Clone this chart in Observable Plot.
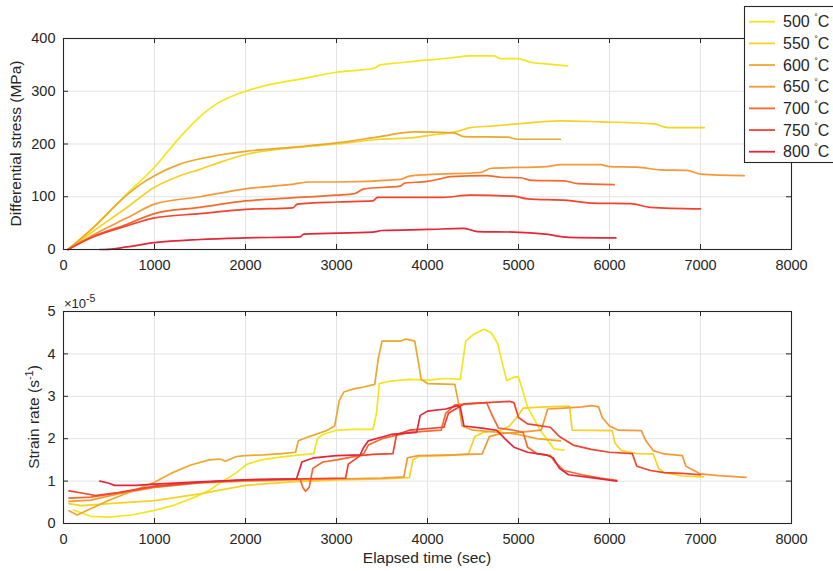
<!DOCTYPE html>
<html><head><meta charset="utf-8">
<script src="https://cdn.jsdelivr.net/npm/d3@7"></script>
<script src="https://cdn.jsdelivr.net/npm/@observablehq/plot@0.6"></script>
<style>
html,body{margin:0;padding:0;background:#fff;}
#fig{position:relative;width:833px;height:571px;overflow:hidden;font-family:"Liberation Sans",Arial,Helvetica,sans-serif;}
#fig svg{position:absolute;left:0;}
</style></head><body><div id="fig"></div>
<script>
// ---- categories & styling lists ----
const temps = [500, 550, 600, 650, 700, 750, 800];
const colors = ["#f3e61c", "#f6d225", "#eba82b", "#f69838", "#f5692e", "#f2432f", "#e3263a"];
const xTicks = [0, 1000, 2000, 3000, 4000, 5000, 6000, 7000, 8000];
const stressTicks = [0, 100, 200, 300, 400];
const rateTicks = [0, 1, 2, 3, 4, 5];

// ---- differential stress (MPa) vs elapsed time (sec) ----
const stress500 = [[50,0],[330,42],[700,106],[1000,156],[1290,215],[1500,252],[1700,278],[1870,292],[2000,300],[2300,314],[2600,323],[3000,336],[3300,341],[3420,344],[3480,350],[3700,354],[3920,358],[4250,363],[4470,367],[4730,367],[4800,362],[4990,362],[5130,355],[5300,352],[5540,348]];
const stress550 = [[50,0],[330,35],[700,80],[1000,118],[1250,138],[1500,152],[1750,167],[2000,180],[2530,193],[3000,200],[3480,209],[3850,212],[4000,216],[4330,224],[4470,231],[4700,234],[4990,238],[5460,244],[5900,242],[6490,238],[6640,231],[7040,231]];
const stress600 = [[50,0],[330,42],[700,104],[850,124],[1000,140],[1250,160],[1500,172],[2000,186],[2530,194],[3000,202],[3480,214],[3850,223],[4290,221],[4400,214],[4880,213],[4990,209],[5460,209]];
const stress650 = [[50,0],[330,28],[700,60],[1000,86],[1500,100],[2000,115],[2530,124],[2700,128],[3000,128],[3700,133],[3800,139],[4000,142],[4580,146],[4700,154],[5310,157],[5460,161],[5900,161],[6000,157],[6300,156],[6560,151],[6850,150],[7000,143],[7480,140]];
const stress700 = [[50,0],[330,25],[700,48],[1000,68],[1500,80],[2000,92],[2500,98],[3000,103],[3200,106],[3300,115],[3700,120],[3750,126],[4000,129],[4140,134],[4250,138],[4650,140],[4800,137],[5020,136],[5150,131],[5500,130],[5650,125],[6050,123]];
const stress750 = [[50,0],[330,24],[700,45],[1000,60],[1500,68],[2000,76],[2520,79],[2570,86],[3000,90],[3400,92],[3450,99],[4000,99],[4170,99],[4470,103],[4950,101],[5100,96],[5540,93],[5800,88],[6230,87],[6450,80],[7000,77]];
const stress800 = [[400,0],[450,0],[700,5],[1000,13],[1500,19],[2000,22],[2600,24],[2640,29],[3400,33],[3500,36],[4000,38],[4400,40],[4550,34],[4950,33],[5300,29],[5550,23],[6070,22]];

// ---- strain rate (x 1e-5 s^-1) vs elapsed time (sec) ----
const rate500 = [[110,0.32],[300,0.17],[500,0.15],[750,0.2],[1000,0.31],[1200,0.42],[1430,0.61],[1600,0.78],[1730,0.97],[1900,1.2],[2020,1.4],[2170,1.5],[2400,1.57],[2600,1.62],[2750,1.65],[2790,2.0],[2850,2.1],[3000,2.2],[3200,2.22],[3400,2.22],[3440,2.6],[3470,3.3],[3600,3.36],[3800,3.4],[4000,3.38],[4200,3.42],[4360,3.4],[4420,4.3],[4500,4.45],[4620,4.58],[4700,4.5],[4770,4.25],[4820,3.8],[4870,3.37],[4950,3.45],[5000,3.46],[5050,3.1],[5100,2.74],[5240,2.2],[5390,1.76],[5500,1.73]];
const rate550 = [[60,0.47],[200,0.42],[500,0.47],[1000,0.54],[1500,0.7],[2000,0.9],[2500,0.98],[3000,1.03],[3500,1.05],[3800,1.08],[3840,1.5],[3900,1.58],[4200,1.6],[4450,1.64],[4520,2.05],[4620,2.15],[4800,2.2],[4900,2.3],[4980,2.5],[5050,2.72],[5300,2.75],[5560,2.77],[5590,2.2],[6030,2.19],[6060,1.9],[6130,1.72],[6300,1.65],[6480,1.64],[6540,1.3],[6600,1.2],[6800,1.12],[7030,1.1]];
const rate600 = [[60,0.3],[150,0.2],[250,0.3],[500,0.55],[800,0.8],[1000,0.97],[1200,1.2],[1400,1.38],[1600,1.5],[1720,1.52],[1780,1.47],[1900,1.58],[2000,1.6],[2200,1.62],[2400,1.65],[2550,1.68],[2580,1.95],[2700,2.05],[2900,2.2],[2980,2.3],[3030,2.9],[3080,3.1],[3200,3.18],[3300,3.22],[3420,3.28],[3460,3.9],[3500,4.3],[3700,4.3],[3760,4.35],[3860,4.3],[3900,3.8],[3930,3.4],[4000,3.3],[4300,3.28],[4340,2.85],[4380,2.3],[4500,2.2],[4800,2.15],[5000,2.1],[5200,2.0],[5460,1.95]];
const rate650 = [[60,0.52],[300,0.55],[600,0.7],[1000,0.85],[1500,0.96],[2000,1.0],[2500,1.03],[3000,1.05],[3500,1.07],[3740,1.1],[3780,1.55],[3900,1.6],[4300,1.62],[4600,1.64],[4680,2.05],[4800,2.12],[5000,2.15],[5250,2.2],[5320,2.7],[5500,2.72],[5700,2.75],[5800,2.78],[5880,2.75],[5920,2.5],[6000,2.3],[6100,2.2],[6350,2.19],[6400,1.95],[6480,1.72],[6600,1.64],[6800,1.6],[6840,1.35],[7000,1.17],[7200,1.13],[7500,1.09]];
const rate700 = [[60,0.6],[300,0.62],[600,0.72],[1000,0.86],[1500,0.97],[2000,1.02],[2600,1.05],[2630,0.85],[2660,0.76],[2700,0.85],[2740,1.3],[2850,1.45],[3000,1.5],[3250,1.6],[3300,1.65],[3350,1.85],[3500,2.0],[3800,2.15],[4150,2.2],[4200,2.6],[4300,2.8],[4650,2.85],[4700,2.6],[4780,2.25],[4950,2.2],[5050,2.15],[5100,1.8],[5200,1.65],[5350,1.6],[5400,1.45],[5500,1.25],[5700,1.15],[5900,1.07],[6080,1.02]];
const rate750 = [[60,0.77],[200,0.72],[350,0.66],[600,0.73],[1000,0.88],[1500,0.97],[2000,1.03],[2500,1.05],[3100,1.07],[3130,1.4],[3260,1.6],[3400,1.63],[3620,1.65],[3660,2.1],[3800,2.2],[4180,2.27],[4230,2.6],[4400,2.82],[4900,2.88],[4950,2.85],[5000,2.5],[5100,2.35],[5350,2.27],[5450,2.05],[5600,1.85],[5800,1.75],[6000,1.68],[6250,1.65],[6300,1.35],[6450,1.25],[6600,1.2],[6800,1.18],[7000,1.15]];
const rate800 = [[400,1.0],[500,0.95],[560,0.9],[800,0.9],[1000,0.93],[1500,0.98],[2000,1.03],[2500,1.05],[2560,1.05],[2620,1.45],[2750,1.55],[3000,1.6],[3260,1.62],[3300,1.8],[3350,1.95],[3600,2.1],[3880,2.15],[3920,2.55],[4000,2.65],[4200,2.7],[4330,2.78],[4360,2.75],[4400,2.3],[4600,2.25],[4760,2.2],[4850,2.0],[4950,1.8],[5100,1.68],[5300,1.62],[5380,1.55],[5450,1.3],[5550,1.15],[5800,1.08],[6080,1.0]];

const stressSeries = [stress500, stress550, stress600, stress650, stress700, stress750, stress800];
const rateSeries = [rate500, rate550, rate600, rate650, rate700, rate750, rate800];

// ---- build ----
const ink = "#262626";
const font = '"Liberation Sans", Arial, Helvetica, sans-serif';
const W = 833, ML = 63, MR = 42;
const toRows = list => list.flatMap((arr, i) => arr.map(([t, v]) => ({t, v, temp: temps[i]})));

function panel(rows, yDomain, yTicks, height, marginTop, marginBottom, curve) {
  const innerW = W - ML - MR, innerH = height - marginTop - marginBottom, tk = 5;
  return Plot.plot({
    width: W, height, marginLeft: ML, marginRight: MR, marginTop, marginBottom,
    x: {domain: [0, 8000]},
    y: {domain: yDomain},
    color: {domain: temps, range: colors},
    style: {fontFamily: font, fontSize: "14.5px", color: ink, background: "transparent", overflow: "visible"},
    marks: [
      Plot.gridX(xTicks, {stroke: "#e3e3e3", strokeOpacity: 1}),
      Plot.gridY(yTicks, {stroke: "#e3e3e3", strokeOpacity: 1}),
      Plot.line(rows, {x: "t", y: "v", z: "temp", stroke: "temp", strokeWidth: 1.7, curve}),
      Plot.frame({stroke: ink, strokeWidth: 1.1}),
      Plot.tickX(xTicks, {x: d => d, insetTop: innerH - tk, stroke: ink}),
      Plot.tickX(xTicks, {x: d => d, insetBottom: innerH - tk, stroke: ink}),
      Plot.tickY(yTicks, {y: d => d, insetRight: innerW - tk, stroke: ink}),
      Plot.tickY(yTicks, {y: d => d, insetLeft: innerW - tk, stroke: ink}),
      Plot.axisX(xTicks, {tickSize: 0, tickPadding: 10, label: null, tickFormat: d => String(d)}),
      Plot.axisY(yTicks, {tickSize: 0, tickPadding: 8, label: null, tickFormat: d => String(d)})
    ]
  });
}

const fig = document.getElementById("fig");
const topPanel = panel(toRows(stressSeries), [0, 400], stressTicks, 275, 38, 26, "monotone-x");
topPanel.style.top = "0px";
fig.appendChild(topPanel);
const botPanel = panel(toRows(rateSeries), [0, 5], rateTicks, 291, 31, 48, "linear");
botPanel.style.top = "280px";
fig.appendChild(botPanel);

// ---- overlay: axis titles, exponent, legend ----
const svg = d3.select(fig).append("svg")
  .attr("width", W).attr("height", 571).style("top", "0px")
  .style("font-family", font).attr("fill", ink);

svg.append("text").attr("transform", "translate(21,143.5) rotate(-90)")
  .attr("text-anchor", "middle").attr("font-size", 15.5).text("Differential stress (MPa)");

const sr = svg.append("text").attr("transform", "translate(39,417) rotate(-90)")
  .attr("text-anchor", "middle").attr("font-size", 15.5);
sr.append("tspan").text("Strain rate (s");
sr.append("tspan").attr("dy", -6).attr("font-size", 11).text("-1");
sr.append("tspan").attr("dy", 6).text(")");

const ex = svg.append("text").attr("x", 64).attr("y", 308).attr("font-size", 13);
ex.append("tspan").text("×10");
ex.append("tspan").attr("dy", -6).attr("font-size", 10.5).text("-5");

svg.append("text").attr("x", 427).attr("y", 563).attr("text-anchor", "middle")
  .attr("font-size", 15.5).text("Elapsed time (sec)");

const lg = svg.append("g");
lg.append("rect").attr("x", 744.5).attr("y", 6.5).attr("width", 120).attr("height", 156)
  .attr("fill", "#fff").attr("stroke", ink).attr("stroke-width", 1.1);
temps.forEach((t, i) => {
  const y = 21.7 + i * 21.67;
  lg.append("line").attr("x1", 749).attr("x2", 775).attr("y1", y).attr("y2", y)
    .attr("stroke", colors[i]).attr("stroke-width", 1.8);
  const tx = lg.append("text").attr("x", 783).attr("y", y + 5.6).attr("font-size", 16);
  tx.append("tspan").text(t + " ");
  tx.append("tspan").attr("dy", -7).attr("font-size", 9).text("°");
  tx.append("tspan").attr("dy", 7).text("C");
});
</script></body></html>
